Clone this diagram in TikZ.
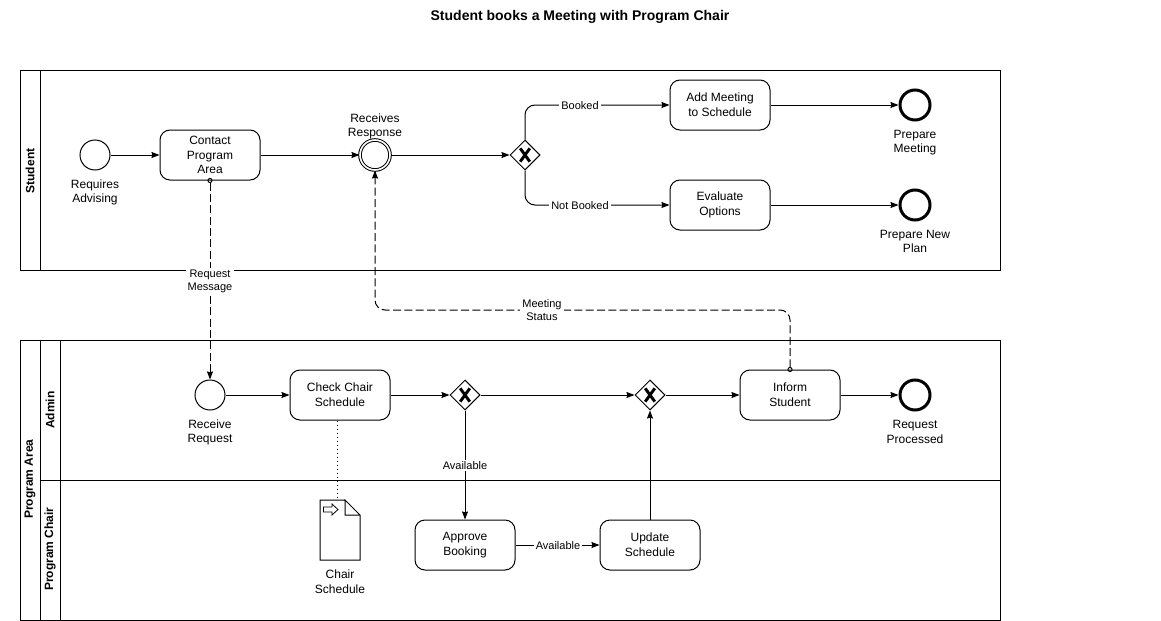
\documentclass[tikz,border=0pt]{standalone}
\usepackage{fontspec}
\setmainfont{Liberation Sans}
\usetikzlibrary{positioning}
\usetikzlibrary{arrows.meta}
\usetikzlibrary{shapes.geometric}
\tikzset{%
  seqarrow/.style = {-{Stealth[length=6pt,width=4.5pt,inset=0.6pt]},solid,line width=0.75pt},
  msgarrow/.style = {{Circle[open,length=3.8pt,width=3.8pt]}-{Stealth[length=6pt,width=4.5pt,inset=0.6pt]},dash pattern=on 6pt off 2.5pt,line width=0.75pt,shorten <=-1.9pt},
  task/.style = {rectangle,draw,rounded corners=7.5pt,line width=0.75pt,minimum width=75pt,
        minimum height=37.5pt,inner sep=0pt,align=center,font=\fontsize{9}{11}\selectfont,
        execute at begin node={\vspace*{1.5pt}}},
  startev/.style = {circle,draw,line width=0.75pt,minimum size=22.5pt,inner sep=0pt},
  midev/.style = {circle,draw,double,double distance=1.2pt,line width=0.75pt,minimum size=22.5pt,inner sep=0pt},
  endev/.style = {circle,draw,line width=2.25pt,minimum size=22.5pt,inner sep=0pt},
  gate/.style = {diamond,draw,line width=0.75pt,minimum width=22.5pt,minimum height=22.5pt,inner sep=0pt,
        path picture={\draw[line width=2.2pt] (path picture bounding box.center) +(-3.6pt,-5pt) -- +(3.6pt,5pt)
        (path picture bounding box.center) +(-3.6pt,5pt) -- +(3.6pt,-5pt);}},
  evlabel/.style = {inner sep=0pt,align=center,font=\fontsize{9}{11}\selectfont},
  flowlabel/.style = {fill=white,inner ysep=1pt,inner xsep=1.6pt,align=center,font=\fontsize{8.25}{9.8}\selectfont},
  lanetitle/.style = {rotate=90,inner sep=0pt,font=\fontsize{9}{11}\selectfont\bfseries},
  lane/.style = {draw,line width=0.75pt}
}
\begin{document}
\begin{tikzpicture}[x=0.75pt,y=-0.75pt]
    \useasboundingbox (0,0) rectangle (1161,621);
    \node[inner sep=0pt,font=\fontsize{10.5}{12}\selectfont\bfseries] (title) at (580,17) {Student books a Meeting with Program Chair};

    \draw[lane] (20,70) rectangle (1000,270);
    \draw[lane] (40,70) -- (40,270);
    \draw[lane] (20,340) rectangle (1000,620);
    \draw[lane] (40,340) -- (40,620);
    \draw[lane] (60,340) -- (60,620);
    \draw[lane] (40,480) -- (1000,480);
    \node[lanetitle] (student) at (30,171) {Student};
    \node[lanetitle] (area) at (30,479) {Program Area};
    \node[lanetitle] (admin) at (50,410) {Admin};
    \node[lanetitle] (chair) at (50,549) {Program Chair};

    \node[startev] (requires) at (95,155) {};
    \node[task] (contact) at (210,155) {Contact\\Program\\Area};
    \node[midev] (receives) at (375,155) {};
    \node[gate] (gatebook) at (525,155) {};
    \node[task] (addmeeting) at (720,105) {Add Meeting\\to Schedule};
    \node[task] (evaluate) at (720,205) {Evaluate\\Options};
    \node[endev] (prepmeet) at (915,105) {};
    \node[endev] (prepplan) at (915,205) {};

    \node[startev] (receive) at (210,395) {};
    \node[task] (check) at (340,395) {Check Chair\\Schedule};
    \node[gate] (gateavail) at (465,395) {};
    \node[gate] (gatejoin) at (650,395) {};
    \node[task] (inform) at (790,395) {Inform\\Student};
    \node[endev] (processed) at (915,395) {};
    \node[task] (approve) at (465,545) {Approve\\Booking};
    \node[task] (update) at (650,545) {Update\\Schedule};

    \node[evlabel,below=6.5pt of requires] {Requires\\Advising};
    \node[evlabel,above=0pt of receives] {Receives\\Response};
    \node[evlabel,below=6pt of prepmeet] {Prepare\\Meeting};
    \node[evlabel,below=6pt of prepplan] {Prepare New\\Plan};
    \node[evlabel,below=6.5pt of receive] {Receive\\Request};
    \node[evlabel,below=6.5pt of processed] {Request\\Processed};

    \draw[seqarrow] (requires) -- (contact);
    \draw[seqarrow] (contact) -- (receives);
    \draw[seqarrow] (receives) -- (gatebook);
    \draw[seqarrow,rounded corners=7.5pt] (gatebook.north) |- (addmeeting.west);
    \draw[seqarrow,rounded corners=7.5pt] (gatebook.south) |- (evaluate.west);
    \draw[seqarrow] (addmeeting) -- (prepmeet);
    \draw[seqarrow] (evaluate) -- (prepplan);
    \draw[seqarrow] (receive) -- (check);
    \draw[seqarrow] (check) -- (gateavail);
    \draw[seqarrow] (gateavail) -- (gatejoin);
    \draw[seqarrow] (gatejoin) -- (inform);
    \draw[seqarrow] (inform) -- (processed);
    \draw[seqarrow] (gateavail) -- (approve);
    \draw[seqarrow] (approve) -- (update);
    \draw[seqarrow] (update) -- (gatejoin);

    \draw[msgarrow] (contact.south) -- (receive.north);
    \coordinate (turnright) at (790,310);
    \coordinate (turnleft) at (375,310);
    \draw[msgarrow,rounded corners=7.5pt] (inform.north) -- (turnright) -- (turnleft) -- (receives.south);

    \node[flowlabel] (booked) at (580,105.7) {Booked};
    \node[flowlabel] (notbooked) at (580,205.7) {Not Booked};
    \node[flowlabel] (reqmsg) at (210,281) {Request\\Message};
    \node[flowlabel] (status) at (542,310.5) {Meeting\\Status};
    \node[flowlabel] (availdown) at (465,465.7) {Available};
    \node[flowlabel] (availright) at (558,545.7) {Available};

    \node[minimum width=30pt,minimum height=45pt,inner sep=0pt] (doc) at (340,530) {};
    \draw[line width=0.75pt] (345,500) -- (320,500) -- (320,560) -- (360,560) -- (360,515) -- (345,500) -- (345,515) -- (360,515);
    \draw[line width=0.6pt] (323.5,507) -- (332,507) -- (332,504) -- (338,509.5) -- (332,515) -- (332,512) -- (323.5,512) -- cycle;
    \coordinate (doctop) at (337,500);
    \draw[line width=0.6pt,dash pattern=on 0.75pt off 2.25pt] (check.south -| doctop) -- (doctop);
    \node[evlabel,below=7pt of doc] {Chair\\Schedule};
\end{tikzpicture}
\end{document}
